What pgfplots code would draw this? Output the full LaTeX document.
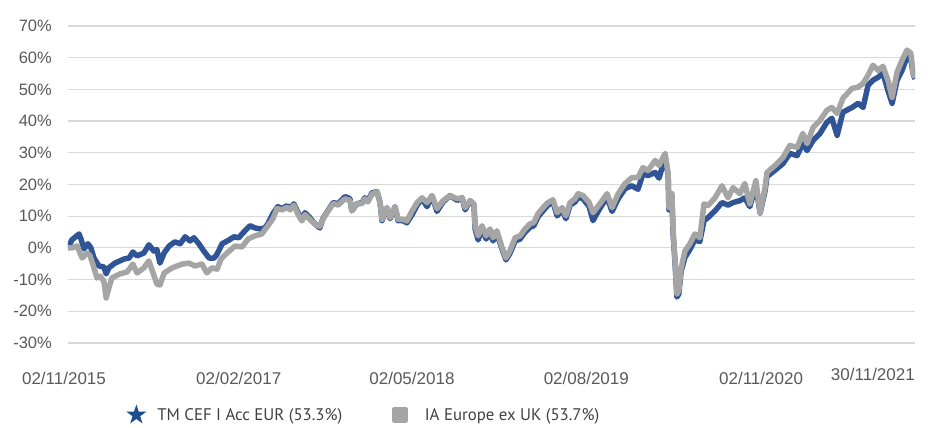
\documentclass[border=0pt]{standalone}
\usepackage{fontspec}
\setmainfont{Liberation Sans}
\newfontfamily\legendfont{PT Sans}
\usepackage{pgfplots}
\pgfplotsset{compat=1.18}
\usepackage{pgfplotstable}
\usetikzlibrary{shapes.geometric}
\definecolor{fundblue}{HTML}{2F5597}
\definecolor{starblue}{HTML}{1F4E8F}
\definecolor{sectorgray}{HTML}{A5A5A5}
\definecolor{gridgray}{HTML}{D9D9D9}
\definecolor{ticktext}{HTML}{595959}
\definecolor{legtext}{HTML}{404040}

\pgfplotstableread{
day val
0 0
10 2.5
29 4.4
34 2.8
42 -0.3
52 1.3
60 0
68 -3.2
81 -5.7
94 -6.0
100 -8.2
107 -6.3
123 -4.8
147 -3.5
160 -3.2
170 -1.3
181 -2.5
199 -1.6
212 1.0
225 -1.0
233 -0.5
241 -4.8
252 -1.6
265 0.6
280 1.9
294 1.3
307 3.5
320 2.2
330 3.2
343 1.3
356 -1.0
370 -3.2
383 -3.2
391 -1.9
404 1.3
422 2.5
435 3.5
448 3.2
456 4.4
477 7.0
490 6.3
503 6.0
516 6.3
524 7.6
537 10.8
550 13.0
561 12.4
574 13.3
582 12.4
592 13.9
603 11.1
613 8.9
621 11.1
634 9.5
647 7.6
660 6.3
668 9.2
681 11.7
695 14.3
708 13.9
726 16.2
739 15.5
744 11.7
757 13.9
771 14.3
778 15.8
786 14.9
797 17.4
810 17.7
818 14.3
823 8.6
836 12.7
844 9.2
857 13.0
865 8.6
878 8.6
888 7.9
902 10.5
915 13.5
928 15.5
941 13
954 16.5
967 11.5
983 14.5
1001 16.5
1020 15
1033 15.8
1041 12
1054 14.9
1064 13.5
1067 6
1075 2.5
1085 6
1096 2.8
1106 5
1114 2.2
1124 4.5
1138 -0.5
1148 -3.8
1158 -1.8
1172 2.2
1185 2.8
1198 5
1211 6.5
1221 7
1232 9.8
1245 11.7
1258 13.5
1271 14.5
1282 10.1
1295 12
1305 9.2
1316 13.5
1329 14.5
1337 16
1350 15.5
1366 13
1376 8.6
1394 12.5
1413 16
1426 11.5
1442 15.5
1460 18.7
1478 19.6
1494 18.5
1507 23.4
1520 22.8
1539 23.8
1549 22
1565 28.5
1573 23
1575 12
1583 15
1586 4.4
1591 -4.5
1596 -15.5
1601 -14.5
1607 -7.3
1617 -3
1630 -0.5
1643 2.5
1656 2
1667 8.6
1677 9.5
1696 11.7
1714 14.3
1730 13.5
1743 14.3
1761 14.9
1774 15.8
1787 13
1803 19.6
1814 11
1827 18
1832 22.5
1853 24.5
1874 26.6
1892 29.8
1911 29.1
1926 32.9
1937 30.7
1953 33.9
1971 36.1
1989 39.6
2002 40.9
2016 35.5
2031 42.8
2055 44.3
2071 45.6
2084 44.3
2097 51.3
2110 52.9
2123 53.8
2136 55.1
2149 49.7
2160 45.6
2173 52.9
2186 56
2199 60.2
2209 59.5
2215 55
2220 53.3
}\fundtable

\pgfplotstableread{
day val
0 0
10 0
24 0.6
37 -3.2
50 -1.6
58 -2.5
68 -6.3
76 -9.5
84 -8.9
94 -10.5
100 -15.8
107 -12.7
115 -9.5
136 -8.2
155 -7.6
170 -5.1
181 -7.9
199 -6.3
212 -4.1
223 -7.9
233 -11.4
241 -11.7
252 -7.9
273 -6.3
299 -5.1
317 -4.8
333 -5.7
351 -5.1
364 -7.9
377 -6.3
391 -6.7
401 -3.5
417 -1.6
438 0.6
456 0.3
472 2.8
490 3.8
508 4.4
524 7.0
537 9.2
548 12.4
561 12
574 12.8
582 12
592 13.5
603 10.5
613 8.5
621 10.5
634 9
647 7.5
660 6.8
668 9
681 11.5
695 14
708 13.5
726 15.5
739 15
744 11.7
757 13.9
771 14
778 15.5
786 14.5
797 17
810 17.7
818 14.3
823 9
836 12.7
844 9.5
857 13
865 9
878 9
888 8.5
902 11.7
915 14.3
928 15.8
941 14.3
954 16.5
967 12.4
983 14.9
1001 16.5
1020 15.5
1033 15.8
1041 12.7
1054 14.9
1064 13.9
1067 7.0
1075 3.8
1085 7.0
1096 3.8
1106 6.0
1114 3.2
1124 5.4
1138 0
1148 -3.2
1158 -1.0
1172 3.2
1185 3.8
1198 6.0
1211 7.6
1221 8
1232 10.8
1245 12.7
1258 14.3
1271 15.2
1282 11.1
1295 12.7
1305 10.1
1316 14.3
1329 15.5
1337 17.1
1350 16.5
1366 14.3
1376 11.1
1394 13.9
1413 17.1
1426 12.7
1442 17.1
1460 20.3
1478 22.2
1494 22.2
1507 25.3
1520 24.4
1539 27.6
1549 26
1565 29.8
1573 23.4
1575 12.7
1583 17.1
1586 5.4
1591 -4.1
1596 -14.6
1601 -13.5
1607 -6.3
1617 -1
1630 1.3
1643 4.4
1656 3.2
1667 13.9
1677 13.3
1696 15.8
1714 19.6
1730 15.8
1743 19.0
1761 17.1
1774 20.3
1787 13.9
1803 21.2
1814 11.1
1827 19
1832 23.8
1853 26
1874 28.5
1892 32.3
1911 31.7
1926 36.1
1937 32.9
1953 38.0
1971 40.2
1989 43.4
2002 44.3
2016 42.4
2031 47.2
2055 50.3
2071 50.7
2084 51.9
2097 54.5
2110 57.6
2123 56
2136 57.3
2149 52.9
2160 47.5
2173 55.4
2186 59.2
2199 62.4
2209 61.4
2215 55.1
2220 53.7
}\sectortable

\begin{document}
\begin{tikzpicture}
\begin{axis}[
  at={(68pt,85pt)}, anchor=south west,
  scale only axis, width=847pt, height=317pt,
  xmin=0, xmax=2220, ymin=-30, ymax=70,
  axis line style={draw=none},
  major tick length=0pt,
  ymajorgrids,
  grid style={gridgray, line width=1.2pt},
  ytick={-30,-20,...,70},
  yticklabels={-30\%,-20\%,-10\%,0\%,10\%,20\%,30\%,40\%,50\%,60\%,70\%},
  xtick={0,458,912,1369,1827},
  xticklabels={02/11/2015,02/02/2017,02/05/2018,02/08/2019,02/11/2020},
  extra x ticks={2220},
  extra x tick labels={30/11/2021},
  extra x tick style={xticklabel style={anchor=north east, xshift=4pt, yshift=4pt}},
  xticklabel style={font=\fontsize{17}{20}\selectfont, text=ticktext, inner sep=0pt, yshift=-29pt, xshift=-4pt},
  yticklabel style={font=\fontsize{16.5}{20}\selectfont, text=ticktext, inner sep=0pt, xshift=-16pt},
  legend columns=2,
  legend cell align=left,
  legend style={at={(0.0579,-0.2270)}, anchor=west, draw=none, fill=none,
    inner sep=0pt, outer sep=0pt,
    font=\legendfont\fontsize{16.8}{20}\selectfont, text=legtext,
    nodes={inner sep=0pt},
    /tikz/every odd column/.append style={column sep=11pt},
    /tikz/every even column/.append style={column sep=44pt}},
]
\addplot[fundblue, line width=5.5pt, line join=round, no marks,
  legend image code/.code={\path (0pt,-10pt) (22pt,10pt);
    \node[star, star points=5, star point ratio=2.6, fill=starblue, draw=none, inner sep=0pt, minimum size=21pt] at (11pt,0pt) {};}]
  table[x=day, y=val] {\fundtable};
\addlegendentry{TM CEF I Acc EUR (53.3\%)}
\addplot[sectorgray, line width=5.5pt, line join=round, no marks,
  legend image code/.code={\path (0pt,-10pt) (22pt,10pt);
    \fill[sectorgray] (5.5pt,-5.5pt) rectangle (16.5pt,5.5pt);}]
  table[x=day, y=val] {\sectortable};
\addlegendentry{IA Europe ex UK (53.7\%)}
\end{axis}
\pgfresetboundingbox
\path[use as bounding box] (0,0) rectangle (930pt,428pt);
\end{tikzpicture}
\end{document}
